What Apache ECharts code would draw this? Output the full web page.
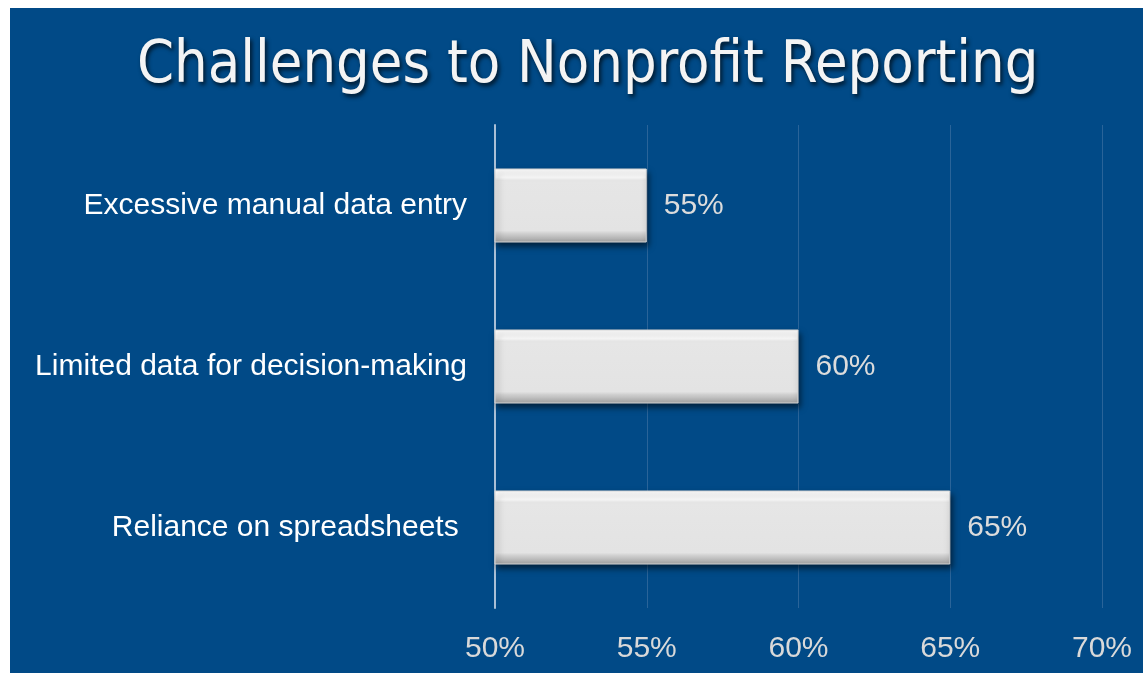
<!DOCTYPE html>
<html>
<head>
<meta charset="utf-8">
<script src="https://cdn.jsdelivr.net/npm/echarts@6/dist/echarts.min.js"></script>
<style>
  html, body { margin: 0; padding: 0; background: #ffffff; }
  #chart { position: absolute; left: 10px; top: 8px; width: 1133px; height: 665px; background: #014a87; }
</style>
</head>
<body>
<div id="chart"></div>
<script>
// data
var categories = ["Excessive manual data entry", "Limited data for decision-making", "Reliance on spreadsheets "];
var values = [55, 60, 65];
var axisMin = 50, axisMax = 70, axisStep = 5;

var myChart = echarts.init(document.getElementById("chart"));

// bevelled light-grey bar look
var barFill = new echarts.graphic.LinearGradient(0, 0, 0, 1, [
    { offset: 0, color: "#ffffff" },
    { offset: 0.12, color: "#fbfbfb" },
    { offset: 0.16, color: "#e6e6e6" },
    { offset: 0.84, color: "#e3e3e3" },
    { offset: 0.88, color: "#cfcfcf" },
    { offset: 1, color: "#a0a0a0" }
]);

var option = {
    title: {
        text: "Challenges to Nonprofit Reporting",
        left: 127,
        top: 29,
        padding: 0,
        textStyle: {
            fontFamily: "DejaVu Sans Condensed, sans-serif",
            fontSize: 59,
            fontWeight: "normal",
            color: "#f4f4f4",
            textShadowColor: "rgba(0,0,0,0.7)",
            textShadowBlur: 4,
            textShadowOffsetX: 2,
            textShadowOffsetY: 3
        }
    },
    grid: {
        left: 485,
        right: 41,
        top: 117,
        bottom: 65
    },
    xAxis: {
        type: "value",
        min: axisMin,
        max: axisMax,
        interval: axisStep,
        axisLine: { show: false },
        axisTick: { show: false },
        splitLine: { lineStyle: { color: "#2a6499", width: 1 } },
        axisLabel: {
            margin: 26,
            color: "#d9d9d9",
            fontFamily: "Liberation Sans",
            fontSize: 30,
            formatter: "{value}%"
        }
    },
    yAxis: {
        type: "category",
        inverse: true,
        data: categories,
        axisLine: { lineStyle: { color: "#a9bfd6", width: 2 } },
        axisTick: { show: false },
        axisLabel: {
            margin: 28,
            color: "#ffffff",
            fontFamily: "Liberation Sans",
            fontSize: 30
        }
    },
    series: [{
        type: "bar",
        data: values,
        barWidth: 74,
        itemStyle: {
            color: barFill,
            borderColor: "#d4d4d4",
            borderWidth: 1,
            shadowColor: "rgba(0,0,0,0.55)",
            shadowBlur: 6,
            shadowOffsetX: 2,
            shadowOffsetY: 4
        },
        label: {
            show: true,
            position: "right",
            distance: 17,
            color: "#dcdcdc",
            fontFamily: "Liberation Sans",
            fontSize: 30,
            formatter: "{c}%"
        }
    }]
};
myChart.setOption(option);
</script>
</body>
</html>
